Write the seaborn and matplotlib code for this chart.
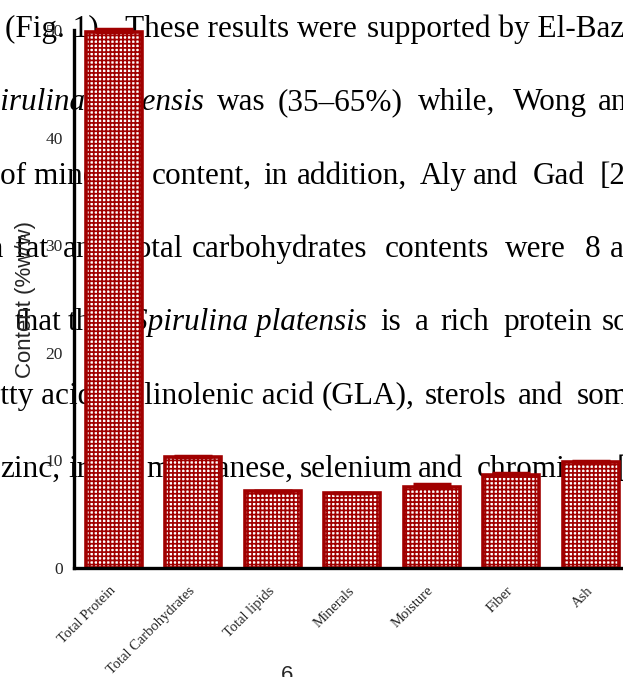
import numpy as np
import matplotlib
matplotlib.use('Agg')
import matplotlib.pyplot as plt
import seaborn as sns

# chart data
categories = ['Total Protein', 'Total Carbohydrates', 'Total lipids',
              'Minerals', 'Moisture', 'Fiber', 'Ash']
content = [49.8, 10.3, 7.15, 6.95, 7.55, 8.65, 9.85]
content_sd = [0.3, 0.15, 0.05, 0.05, 0.25, 0.15, 0.12]
y_ticks = [0, 10, 20, 30, 40, 50]

# page text behind the figure: (x px, text, italic, ha) per line
page_lines = [
    [(5, '(Fig. 1).', False, 'left'), (125, 'These results', False, 'left'),
     (297, 'were', False, 'left'), (367, 'supported by El-Baz', False, 'left')],
    [(204, 'Spirulina platensis', True, 'right'), (217, 'was', False, 'left'),
     (278, '(35\u201365%)', False, 'left'), (418, 'while,', False, 'left'),
     (513, 'Wong', False, 'left'), (598, 'and', False, 'left')],
    [(0, 'of mineral', False, 'left'), (152, 'content,', False, 'left'),
     (263, 'in', False, 'left'), (297, 'addition,', False, 'left'),
     (420, 'Aly', False, 'left'), (473, 'and', False, 'left'),
     (533, 'Gad', False, 'left'), (600, '[22]', False, 'left')],
    [(4, 'in', False, 'right'), (15, 'fat', False, 'left'),
     (63, 'and', False, 'left'), (128, 'total', False, 'left'),
     (192, 'carbohydrates', False, 'left'), (385, 'contents', False, 'left'),
     (505, 'were', False, 'left'), (585, '8', False, 'left'),
     (610, 'and', False, 'left')],
    [(15, 'that', False, 'left'), (68, 'the', False, 'left'),
     (367, 'Spirulina platensis', True, 'right'), (380, 'is', False, 'left'),
     (415, 'a', False, 'left'), (440, 'rich', False, 'left'),
     (503, 'protein', False, 'left'), (602, 'source', False, 'left')],
    [(-24, 'fatty acids,', False, 'left'),
     (314, '\u03b3-linolenic acid', False, 'right'),
     (322, '(GLA),', False, 'left'), (425, 'sterols', False, 'left'),
     (518, 'and', False, 'left'), (577, 'some', False, 'left')],
    [(0, 'zinc,', False, 'left'), (68, 'iron,', False, 'left'),
     (146, 'manganese,', False, 'left'), (300, 'selenium', False, 'left'),
     (418, 'and', False, 'left'), (477, 'chromium', False, 'left'),
     (617, '[23]', False, 'left')],
]
first_baseline = 37
line_step = 73.3

W, H = 623, 677
red = '#A00000'

sns.set_style('white')
plt.rcParams['hatch.linewidth'] = 1.25

fig = plt.figure(figsize=(W / 100, H / 100), dpi=100)
fig.patch.set_facecolor('white')

for i, segs in enumerate(page_lines):
    yb = first_baseline + i * line_step
    for x, txt, ital, ha in segs:
        fig.text(x / W, 1 - yb / H, txt, ha=ha, va='baseline',
                 family='Liberation Serif', style='italic' if ital else 'normal',
                 fontsize=22.5, color='black', zorder=-1)

fig.text(287 / W, 1 - 665 / H, '6', ha='center', va='top',
         family='Liberation Sans', fontsize=16, zorder=-1)

ax = fig.add_axes([74 / W, 109 / H, 556.5 / W, 538 / H])
ax.patch.set_visible(False)

sns.barplot(x=categories, y=content, ax=ax, width=0.7, color='white',
            edgecolor=red, linewidth=2.6, hatch='++++', errorbar=None,
            zorder=2)

ax.errorbar(np.arange(len(categories)), content,
            yerr=[np.zeros(len(content)), content_sd], fmt='none',
            ecolor=red, elinewidth=2, capsize=14, capthick=2.5,
            zorder=3, clip_on=False)

ax.set_xlim(-0.5, 6.5)
ax.set_ylim(0, 50)
ax.set_yticks(y_ticks)
ax.set_yticklabels([str(v) for v in y_ticks], family='Liberation Serif',
                   fontsize=12.5)
ax.set_xticks(range(len(categories)))
ax.set_xticklabels(categories, rotation=45, ha='right', va='center',
                   rotation_mode='anchor', family='Liberation Serif',
                   fontsize=10.5)
ax.set_xlabel('')
ax.set_ylabel('Content (%w/w)', family='Liberation Sans', fontsize=16)
ax.yaxis.set_label_coords(-0.068, 0.5)

for side in ['top', 'right']:
    ax.spines[side].set_visible(False)
for side in ['left', 'bottom']:
    ax.spines[side].set_linewidth(2.4)
    ax.spines[side].set_color('black')
ax.tick_params(axis='both', direction='out', length=5, width=2,
               color='black', pad=3)
ax.tick_params(axis='x', pad=10)

fig.savefig('out.png', dpi=100)
